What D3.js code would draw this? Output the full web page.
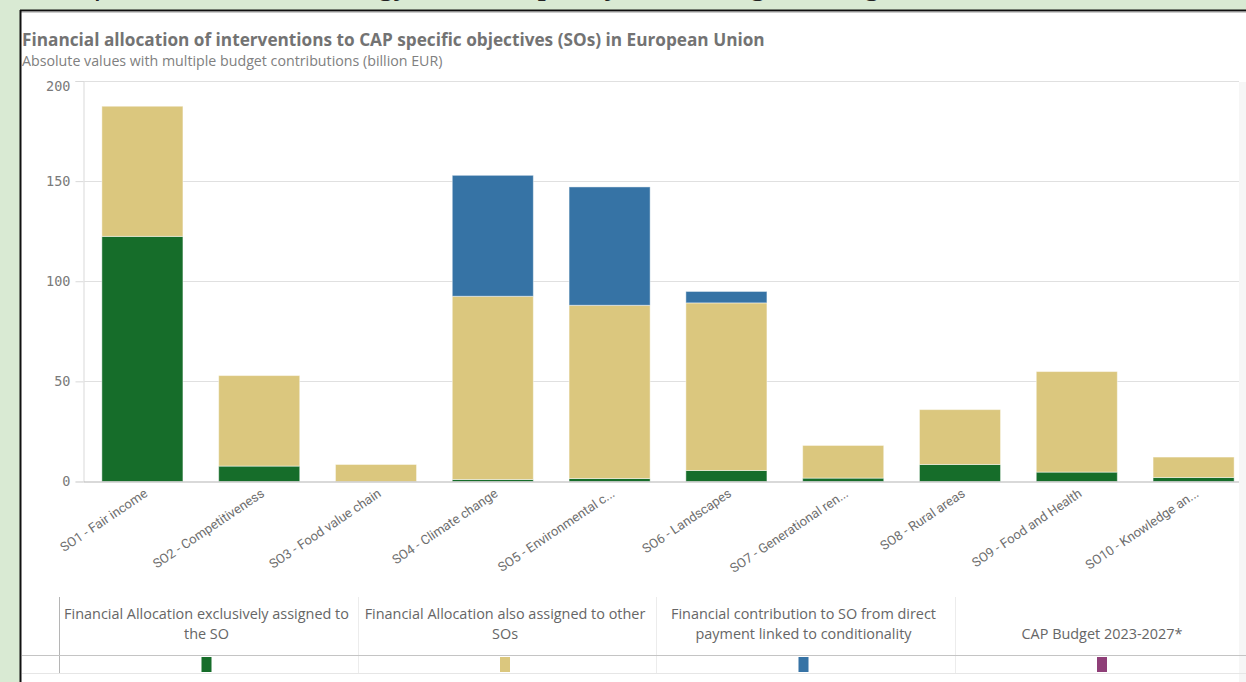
<!DOCTYPE html>
<html>
<head>
<meta charset="utf-8">
<script src="https://cdn.jsdelivr.net/npm/d3@7"></script>
<style>
  body { margin: 0; background: #d9ead3; overflow: hidden; }
  svg { display: block; font-family: "Open Sans", Roboto, sans-serif; }
</style>
</head>
<body>
<div id="chart"></div>
<script>
// values (billion EUR)
const categories = ["SO1 - Fair income", "SO2 - Competitiveness", "SO3 - Food value chain", "SO4 - Climate change",
  "SO5 - Environmental c...", "SO6 - Landscapes", "SO7 - Generational ren...", "SO8 - Rural areas",
  "SO9 - Food and Health", "SO10 - Knowledge an..."];
const exclusive = [122.4, 7.7, 0, 1, 1.5, 5.5, 1.7, 8.5, 4.7, 2];
const alsoOther = [65, 45.2, 8.5, 91.5, 86.5, 83.7, 16.3, 27.4, 50.2, 10.2];
const conditionality = [0, 0, 0, 60.4, 59.1, 5.7, 0, 0, 0, 0];
const yTicks = [0, 50, 100, 150, 200];
const legendLines = [
  ["Financial Allocation exclusively assigned to", "the SO"],
  ["Financial Allocation also assigned to other", "SOs"],
  ["Financial contribution to SO from direct", "payment linked to conditionality"],
  ["", "CAP Budget 2023-2027*"]
];
// words of the line above the frame (only their lower parts show)
const topWords = ["the farm sector,", "technology", "and the", "policy,", "in the", "green", "growth"];

const keys = ["exclusive", "alsoOther", "conditionality", "budget"];
const color = d3.scaleOrdinal().domain(keys).range(["#166d2a", "#dbc77e", "#3673a5", "#8f3f78"]);

const width = 1246, height = 682;
const margin = {top: 81, bottom: 200.5, left: 84, right: -6};

const svg = d3.select("#chart").append("svg")
  .attr("width", width)
  .attr("height", height);

// scale a text's font so it spans the wanted width
function fitWidth(sel, target) {
  const fs = parseFloat(sel.style("font-size"));
  const w = sel.node().getComputedTextLength();
  const nfs = fs * target / w;
  sel.style("font-size", nfs + "px");
  return nfs;
}

// line of text above the frame, cut off by the window edge
const wordX = [256, 412, 425, 540, 640, 752, 866];
svg.append("g")
  .style("font-family", "'Liberation Serif', serif")
  .style("font-style", "italic")
  .style("font-size", "34px")
  .attr("fill", "#222")
  .selectAll("text")
  .data(topWords)
  .join("text")
  .attr("x", (d, i) => wordX[i])
  .attr("y", -6)
  .attr("text-anchor", (d, i) => i < 2 ? "end" : "start")
  .text(d => d);

// frame
svg.append("rect").attr("x", 21).attr("y", 11).attr("width", 1240).attr("height", 700).attr("fill", "#fff");
svg.append("line").attr("x1", 20).attr("x2", 1246).attr("y1", 10.5).attr("y2", 10.5).attr("stroke", "#111").attr("stroke-width", 2);
svg.append("line").attr("x1", 21).attr("x2", 1246).attr("y1", 12).attr("y2", 12).attr("stroke", "#999").attr("stroke-width", 1);
svg.append("line").attr("x1", 20.5).attr("x2", 20.5).attr("y1", 10).attr("y2", 682).attr("stroke", "#111").attr("stroke-width", 2);
svg.append("rect").attr("x", 1239).attr("y", 82).attr("width", 7).attr("height", 600).attr("fill", "#f6f6f6");

const title = svg.append("text")
  .attr("x", 22).attr("y", 46)
  .attr("fill", "#737373")
  .style("font-size", "16px").style("font-weight", "700")
  .text("Financial allocation of interventions to CAP specific objectives (SOs) in European Union");
fitWidth(title, 743);

const subtitle = svg.append("text")
  .attr("x", 22).attr("y", 66)
  .attr("fill", "#808080")
  .style("font-size", "12.5px")
  .text("Absolute values with multiple budget contributions (billion EUR)");
fitWidth(subtitle, 421);

const x = d3.scaleBand().domain(categories)
  .range([margin.left, width - margin.right])
  .paddingInner(0.306).paddingOuter(0.153);

const y = d3.scaleLinear().domain([0, 200]).range([height - margin.bottom, margin.top]);

// grid + y axis
const yAxis = svg.append("g")
  .attr("transform", `translate(${margin.left - 0.5},0)`)
  .call(d3.axisLeft(y).tickValues(yTicks).tickSize(8).tickPadding(5));
yAxis.select(".domain").attr("stroke", "#d9d9d9");
yAxis.selectAll(".tick line").attr("stroke", "#d9d9d9");
yAxis.selectAll(".tick text")
  .attr("fill", "#7a7a7a")
  .style("font-family", "'DejaVu Sans Mono', monospace")
  .style("font-size", "13.5px");
yAxis.selectAll(".tick").filter(d => d === 200).select("text").attr("dy", "0.7em");

svg.append("g")
  .selectAll("line")
  .data(yTicks.filter(d => d > 0))
  .join("line")
  .attr("x1", margin.left).attr("x2", 1239)
  .attr("y1", d => Math.round(y(d)) + 0.5).attr("y2", d => Math.round(y(d)) + 0.5)
  .attr("stroke", "#e0e0e0");

// stacked bars
const rows = categories.map((c, i) => ({
  category: c,
  exclusive: exclusive[i],
  alsoOther: alsoOther[i],
  conditionality: conditionality[i]
}));
const stacked = d3.stack().keys(keys.slice(0, 3))(rows);

svg.append("g")
  .selectAll("g")
  .data(stacked)
  .join("g")
  .attr("fill", d => color(d.key))
  .selectAll("rect")
  .data(d => d.filter(s => s[1] - s[0] > 0))
  .join("rect")
  .attr("x", d => x(d.data.category))
  .attr("y", d => y(d[1]))
  .attr("width", x.bandwidth())
  .attr("height", d => y(d[0]) - y(d[1]))
  .attr("stroke", "#fff")
  .attr("stroke-opacity", 0.45)
  .attr("stroke-width", 1);

// x axis
const xAxis = svg.append("g")
  .attr("transform", `translate(0,${y(0)})`)
  .call(d3.axisBottom(x).tickSize(0).tickPadding(0));
xAxis.select(".domain").attr("stroke", "#b3b3b3").attr("d", `M${margin.left},0.5H1239`);
xAxis.selectAll(".tick text")
  .attr("fill", "#6e6e6e")
  .style("font-family", "Roboto, sans-serif")
  .style("font-size", "13px")
  .attr("text-anchor", "end")
  .attr("dy", 0)
  .attr("transform", "translate(6,14) rotate(-34)");

// legend table
const lg = svg.append("g");
const colEdges = [59, 358, 656, 955, 1253];
lg.append("line").attr("x1", 59.5).attr("x2", 59.5).attr("y1", 597).attr("y2", 674).attr("stroke", "#b5b5b5");
lg.selectAll("line.div")
  .data(colEdges.slice(1, 4))
  .join("line").attr("class", "div")
  .attr("x1", d => d + 0.5).attr("x2", d => d + 0.5)
  .attr("y1", 597).attr("y2", 674)
  .attr("stroke", "#ececec");
lg.append("line").attr("x1", 22).attr("x2", 1246).attr("y1", 655.5).attr("y2", 655.5).attr("stroke", "#c4c4c4");
lg.append("line").attr("x1", 22).attr("x2", 1246).attr("y1", 673.5).attr("y2", 673.5).attr("stroke", "#e6e6e6");

let legendFs = 12.5;
keys.forEach((k, i) => {
  const cx = (colEdges[i] + colEdges[i + 1]) / 2 - 2;
  legendLines[i].forEach((t, j) => {
    const lt = lg.append("text")
      .attr("x", cx).attr("y", 619 + j * 20)
      .attr("text-anchor", "middle")
      .attr("fill", "#666")
      .style("font-size", legendFs + "px")
      .text(t);
    if (i === 0 && j === 0) legendFs = fitWidth(lt, 285);
  });
  lg.append("rect")
    .attr("x", cx - 5).attr("y", 657)
    .attr("width", 10).attr("height", 15)
    .attr("fill", color(k));
});
</script>
</body>
</html>
